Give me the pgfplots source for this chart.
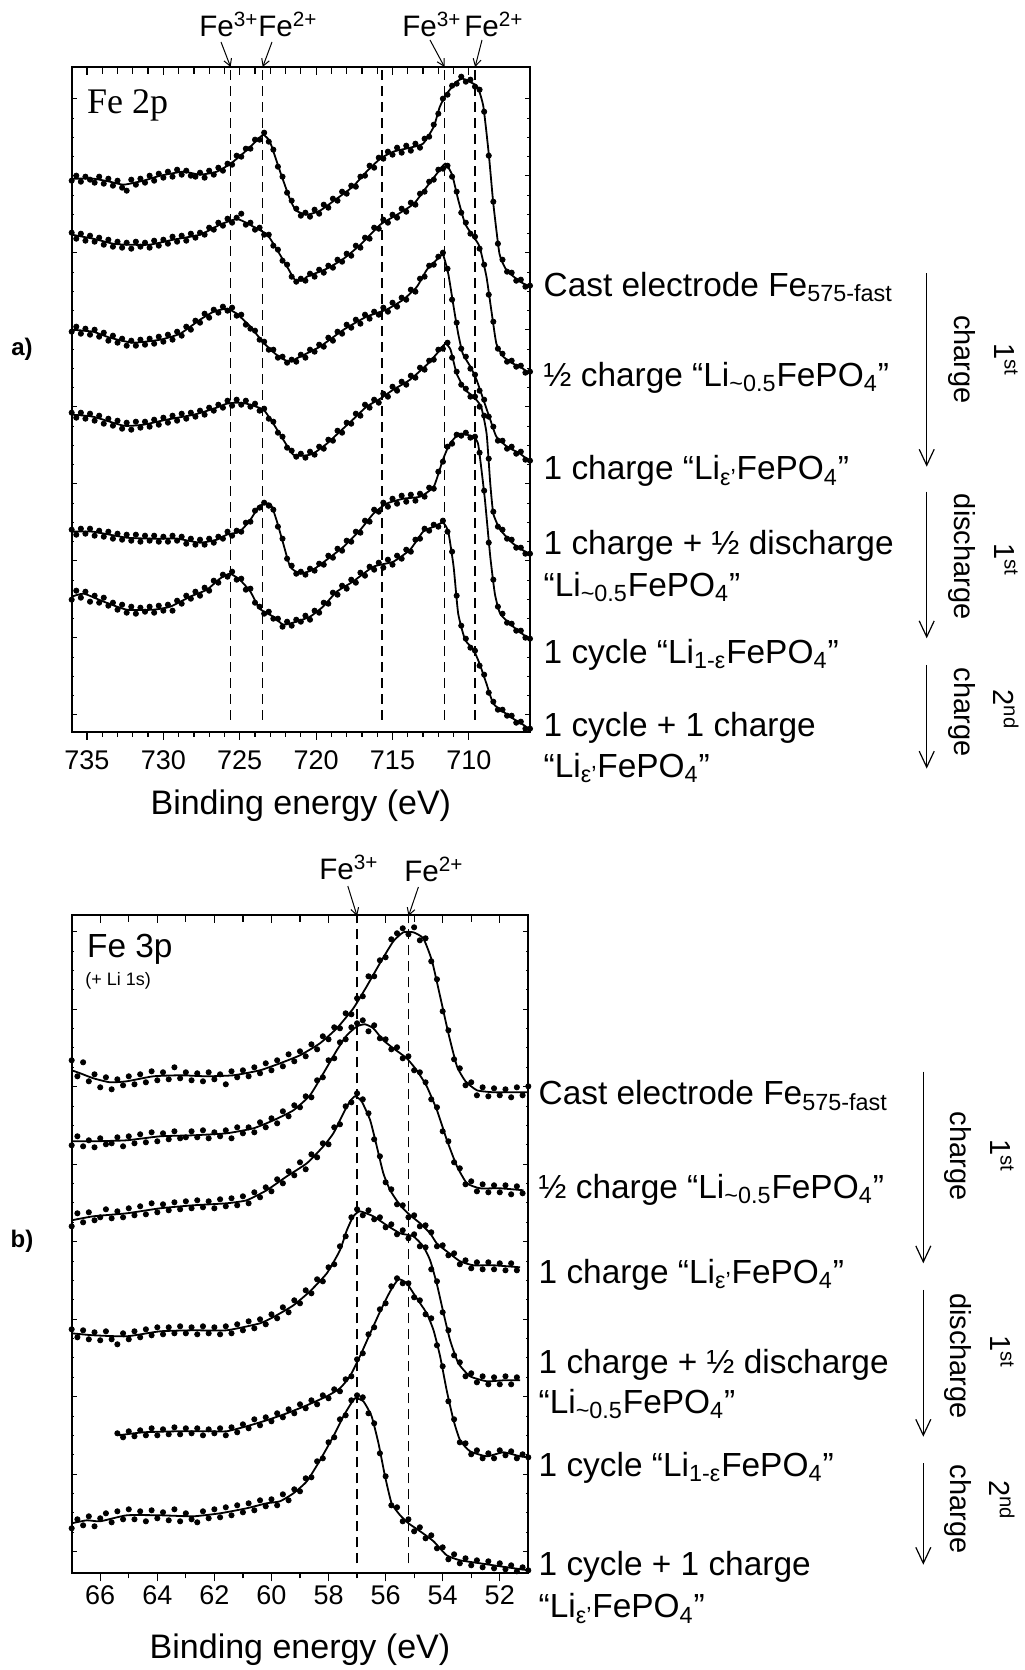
\documentclass[border=0pt]{standalone}
\usepackage{fontspec}
\setmainfont{Liberation Sans}
\newfontfamily\timesfont{Liberation Serif}
\usepackage{pgfplots}
\pgfplotsset{compat=1.18}
\usepackage{pgfplotstable}
\usetikzlibrary{arrows.meta}

% ---------- Fe 2p : fitted lines ----------
\pgfplotstableread{
x y
736.0 553
734.6 553
733.5 550
732.6 547
731.3 551
730.2 556
728.7 560
727.6 557
726.5 560
725.6 568
724.8 578
724.1 588
723.7 594
723.45 597
723.1 592
722.9 585
722.4 562
721.7 532
721.3 521
720.6 517
719.75 521
718.65 533
717.6 545
716.7 560
715.8 573
714.95 580
713.85 584
713.0 588
712.3 605
711.9 625
711.45 638
710.8 650
710.4 653
709.7 648
709.4 644
709.05 625
708.7 578
708.4 528
708.0 478
707.6 463
707.3 458
706.65 450
706.0 445
}\tA
\pgfplotstableread{
x y
736.0 497
734.6 493
733.3 488
732.4 487
730.9 487
729.35 492
727.6 497
726.3 507
725.4 512
725.0 512
724.1 505
723.2 497
722.6 483
721.9 465
721.4 452
720.9 451
720.6 455
719.3 463
718.2 473
717.1 487
715.8 507
714.7 517
713.6 528
712.75 545
712.1 558
711.55 568
711.1 557
710.7 532
710.25 508
709.7 495
709.3 485
708.85 455
708.5 418
708.2 388
707.75 375
707.1 368
706.65 365
706.0 358
}\tB
\pgfplotstableread{
x y
736.0 402
734.6 400
733.5 394
732.0 389
730.2 392
728.9 398
727.6 412
726.7 420
725.85 423
725.2 418
724.3 405
723.45 389
722.6 377
721.8 370
721.05 375
719.75 385
718.2 402
716.7 415
715.4 422
714.3 432
713.4 445
712.75 462
712.1 472
711.7 477
711.35 458
711.0 425
710.7 398
710.4 378
709.9 365
709.5 352
709.05 332
708.6 312
708.2 295
707.5 285
706.65 278
706.0 270
}\tC
\pgfplotstableread{
x y
736.0 317
734.6 315
732.6 306
731.3 307
729.8 312
728.0 317
726.7 323
725.85 328
725.2 329
724.55 328
723.45 322
722.8 308
722.15 292
721.5 277
720.8 276
720.2 278
719.3 288
718.45 300
717.6 312
716.7 325
715.8 333
714.95 342
713.85 352
712.75 367
712.1 378
711.55 388
711.2 382
710.8 358
710.25 342
709.7 335
709.2 325
708.84 298
708.6 248
708.4 218
707.95 202
707.1 188
706.0 177
}\tD
\pgfplotstableread{
x y
736.0 200
734.6 200
732.4 194
730.65 193
729.1 193
727.6 189
726.5 192
725.85 197
725.0 200
724.3 212
723.7 226
723.0 228
722.6 212
722.15 188
721.7 165
721.05 158
720.2 162
719.3 172
718.2 185
717.1 202
716.25 218
715.4 228
714.3 233
713.2 235
712.3 245
711.7 272
711.25 288
710.6 298
709.7 295
709.4 288
709.2 265
708.95 232
708.6 175
708.3 138
707.95 118
707.1 105
706.0 92
}\tE
\pgfplotstableread{
x y
736.0 135
735.2 138
733.9 130
732.4 122
730.65 122
729.55 125
728.25 135
727.15 142
726.3 153
725.65 158
725.0 152
724.3 140
723.7 123
722.8 115
722.15 107
721.3 110
720.4 115
719.55 125
718.65 140
717.6 150
716.25 165
714.95 170
713.85 182
713.0 200
712.3 205
711.7 209
711.35 200
711.0 165
710.7 118
710.25 92
709.7 82
709.3 68
708.85 48
708.4 28
707.75 20
707.1 13
706.45 7
706.0 2
}\tF

% ---------- Fe 2p : measured points ----------
\pgfplotstableread{
x a b c d e f
736.0 551 499 400 319 202 132
735.7 556 493 405 314 197 141
735.4 550 498 398 319 203 134
735.1 555 491 403 313 198 140
734.8 552 496 397 318 203 130
734.5 549 490 402 311 196 136
734.2 555 494 395 316 201 129
733.9 548 487 399 308 195 134
733.6 553 492 391 313 200 126
733.3 546 485 396 306 193 129
733.0 551 490 389 311 198 122
732.7 544 484 393 303 192 127
732.4 541 489 386 309 197 119
732.1 552 483 391 302 191 125
731.8 547 490 386 310 197 118
731.5 553 485 392 304 190 124
731.2 549 489 387 310 196 120
730.9 556 484 393 305 191 125
730.6 551 491 388 312 196 119
730.3 558 486 395 307 190 126
730.0 554 492 390 314 195 121
729.7 560 488 397 309 190 127
729.4 555 495 392 316 196 121
729.1 562 490 400 311 191 131
728.8 557 496 396 318 195 128
728.5 561 491 405 313 188 136
728.2 556 498 402 319 193 133
727.9 555 494 411 315 187 140
727.6 559 499 409 321 192 136
727.3 554 497 418 317 187 144
727.0 561 504 414 324 193 141
726.7 557 502 422 321 189 151
726.4 564 509 419 327 195 149
726.1 561 506 425 324 193 157
725.8 568 513 421 331 200 155
725.5 567 509 424 326 196 160
725.2 576 514 416 332 201 152
724.9 575 518 417 327 200 153
724.6 583 507 407 331 209 142
724.3 583 509 403 325 210 143
724.0 592 502 401 328 221 129
723.7 592 504 392 321 224 125
723.4 599 497 390 323 229 118
723.1 590 497 382 313 226 120
722.8 582 486 382 310 222 113
722.5 565 482 374 299 205 113
722.2 555 471 375 295 193 105
721.9 539 467 369 284 173 110
721.6 531 455 372 281 166 106
721.3 523 450 370 275 158 112
721.0 516 453 377 278 160 110
720.7 519 451 374 274 157 116
720.4 515 458 382 280 163 112
720.1 522 455 380 277 161 121
719.8 518 462 387 285 168 119
719.5 527 459 385 283 167 129
719.2 524 466 394 292 176 128
718.9 533 464 391 291 174 139
718.6 531 472 400 301 183 137
718.3 540 470 398 299 181 146
718.0 538 478 407 309 191 143
717.7 546 476 404 308 190 152
717.4 545 486 412 318 200 149
717.1 555 484 408 316 199 159
716.8 556 494 417 327 211 156
716.5 566 493 413 324 210 165
716.2 564 504 420 332 222 162
715.9 574 503 417 329 220 169
715.6 573 512 424 338 229 164
715.3 580 509 420 335 225 172
715.0 577 517 429 345 233 167
714.7 584 514 425 341 228 176
714.4 579 523 434 350 236 173
714.1 586 520 432 347 230 182
713.8 581 529 442 356 237 180
713.5 588 527 440 354 231 192
713.2 584 538 453 364 238 193
712.9 593 540 455 362 235 203
712.6 595 550 466 371 244 201
712.3 607 552 467 372 243 207
712.0 618 562 475 382 260 205
711.7 633 563 479 383 270 211
711.4 637 566 463 389 285 200
711.1 646 555 432 374 288 180
710.8 648 540 409 360 297 136
710.5 655 519 383 347 296 106
710.2 650 509 375 343 299 93
709.9 652 498 363 335 294 84
709.6 645 495 357 335 295 81
709.3 642 483 341 325 279 66
709.0 620 467 332 316 241 57
708.7 576 437 315 273 189 39
708.4 530 410 305 220 152 30
708.1 488 383 291 205 125 22
707.8 472 378 291 202 118 22
707.5 460 370 283 193 109 16
707.2 459 371 285 192 108 16
706.9 451 365 278 184 101 9
706.6 452 366 280 184 101 10
706.3 445 359 272 178 94 3
706.0 446 360 271 178 93 3
}\dTop

% ---------- Fe 3p : fitted lines ----------
\pgfplotstableread{
x y
67.0 503
66.7 500
66.24 495
65.66 491
65.07 492
64.14 497
63.2 498
62.27 497
61.33 498
60.4 503
59.7 510
59.0 518
58.3 530
57.71 545
57.13 565
56.66 587
56.2 610
55.73 632
55.38 641
55.03 641
54.68 635
54.38 613
54.09 577
53.8 540
53.5 507
53.2 492
52.8 483
52.22 481
51.64 481
51.0 481
}\bA
\pgfplotstableread{
x y
67.0 432
66.24 432
65.07 433
63.9 437
62.74 438
61.57 440
60.63 445
59.93 453
59.23 463
58.65 478
58.18 500
57.71 523
57.36 538
57.0 547
56.72 549
56.43 545
56.08 533
55.73 525
55.26 515
54.91 503
54.56 487
54.2 463
53.85 433
53.5 407
53.15 390
52.69 385
51.99 385
51.17 383
}\bB
\pgfplotstableread{
x y
67.0 353
66.24 357
65.07 360
63.9 365
62.74 368
61.57 370
60.87 373
60.17 383
59.46 397
58.76 410
58.18 427
57.83 440
57.48 460
57.25 472
57.07 477
56.84 472
56.54 453
56.31 427
56.08 400
55.84 383
55.49 368
55.14 358
54.79 350
54.44 340
54.21 330
53.86 322
53.39 312
52.92 308
52.22 308
51.29 306
}\bC
\pgfplotstableread{
x y
67.0 240
66.24 238
65.07 237
63.9 242
62.74 243
61.57 243
60.4 250
59.82 258
59.23 268
58.65 282
58.06 300
57.6 323
57.36 343
57.13 357
56.9 362
56.43 357
55.96 348
55.49 340
55.03 337
54.68 327
54.44 313
54.21 290
53.97 260
53.74 233
53.45 210
53.04 197
52.45 192
51.87 193
51.29 193
}\bD
\pgfplotstableread{
x y
65.36 138
64.49 141
63.32 142
62.15 142
61.57 142
60.87 147
60.17 153
59.46 160
58.76 168
58.06 177
57.6 185
57.25 197
56.9 217
56.54 240
56.19 262
55.84 282
55.55 294
55.26 290
54.91 275
54.56 260
54.32 243
54.09 217
53.86 183
53.62 153
53.39 133
53.04 122
52.45 117
51.87 121
51.29 117
51.0 116
}\bE
\pgfplotstableread{
x y
67.0 50
66.47 53
66.0 52
65.07 58
63.9 58
62.74 57
61.8 60
60.87 65
60.17 70
59.7 72
59.23 80
58.76 92
58.3 113
57.83 137
57.48 157
57.25 168
57.07 175
56.78 172
56.49 157
56.25 130
56.02 97
55.79 70
55.49 58
55.2 50
54.79 42
54.32 32
53.86 18
53.39 13
52.69 10
51.99 7
51.0 3
}\bF

% ---------- Fe 3p : measured points ----------
\pgfplotstableread{
x a b c d e f
67.0 513 428 347 244 nan 45
66.8 497 437 360 236 nan 54
66.6 511 427 351 243 nan 48
66.4 492 433 361 234 nan 57
66.2 499 426 353 241 nan 47
66.0 486 435 356 233 nan 55
65.8 496 429 364 242 nan 60
65.6 484 430 355 234 nan 51
65.4 494 436 362 229 140 62
65.2 488 427 356 240 136 54
65.0 497 437 365 234 142 64
64.8 489 430 358 242 137 54
64.6 499 439 367 236 143 62
64.4 491 431 359 244 138 52
64.2 502 441 370 238 145 63
64.0 493 432 361 246 138 55
63.8 501 440 369 239 144 61
63.6 494 434 363 246 139 53
63.4 506 442 371 240 146 64
63.2 495 435 364 247 139 52
63.0 501 436 372 240 145 60
62.8 493 442 365 246 140 54
62.6 500 436 373 239 145 51
62.4 492 443 366 247 138 62
62.2 501 435 372 240 144 55
62.0 494 441 365 246 140 64
61.8 499 437 374 239 145 56
61.6 489 443 367 247 138 66
61.4 502 435 375 240 146 58
61.2 496 446 368 249 141 68
61.0 503 440 377 243 149 61
60.8 497 446 370 252 145 70
60.6 506 441 381 245 154 63
60.4 500 451 376 254 148 73
60.2 510 446 386 249 156 67
60.0 503 455 382 259 152 74
59.8 513 450 394 255 160 68
59.6 507 462 390 266 156 79
59.4 519 457 402 261 164 73
59.2 512 468 398 273 160 84
59.0 522 466 411 270 169 82
58.8 517 477 404 283 165 95
58.6 529 476 419 280 173 96
58.4 524 493 416 294 169 112
58.2 537 496 430 292 178 115
58.0 534 513 429 306 175 131
57.8 546 515 446 309 184 136
57.6 545 531 449 327 182 154
57.4 560 534 467 337 194 158
57.2 559 546 471 356 197 173
57.0 575 550 480 364 214 178
56.8 577 553 474 358 220 176
56.6 597 542 460 363 239 160
56.4 597 548 434 354 246 150
56.2 613 535 417 356 264 120
56.0 616 534 391 346 270 97
55.8 634 524 384 349 287 68
55.6 640 526 369 339 295 66
55.4 645 515 368 343 290 52
55.2 639 517 356 335 290 54
55.0 646 503 358 339 276 42
54.8 633 501 347 327 273 46
54.6 635 491 348 326 259 35
54.4 612 474 341 304 255 38
54.2 594 466 327 292 228 25
54.0 562 442 328 261 207 26
53.8 543 432 318 243 172 14
53.6 514 411 320 218 154 19
53.4 505 405 309 211 131 10
53.2 488 389 313 197 130 15
53.0 491 392 305 200 119 8
52.8 478 382 311 191 123 13
52.6 486 389 304 197 115 6
52.4 477 381 311 189 120 12
52.2 485 388 304 196 115 5
52.0 478 381 310 189 123 10
51.8 484 388 303 197 118 4
51.6 476 379 310 189 122 8
51.4 486 387 303 196 115 2
51.2 478 380 nan nan 119 6
51.0 487 nan nan nan 116 3
}\dBot

\pgfplotsset{
  fitline/.style={black, line width=0.9pt, smooth, tension=0.3},
  pts/.style={black, only marks, mark=*, mark size=1.3pt},
  vdash/.style={black, line width=0.8pt, dash pattern=on 5pt off 3pt},
  ticklab/.style={tick label style={font=\fontsize{13.5}{15}\selectfont}},
}

\begin{document}
\begin{tikzpicture}
\useasboundingbox (0,0) rectangle (512pt,835pt);

% ================= panel a) Fe 2p =================
\begin{axis}[
  at={(35.85pt,469.15pt)}, anchor=south west,
  scale only axis, width=229.15pt, height=332.2pt,
  xmin=706, xmax=736, ymin=0, ymax=664.4, x dir=reverse,
  axis line style={line width=0.9pt},
  xtick={710,715,720,725,730,735}, minor x tick num=4,
  xtick pos=left, tick align=outside, ytick=\empty,
  major tick length=4pt, minor tick length=2.5pt,
  tick style={black, line width=0.6pt},
  ticklab, /pgf/number format/assume math mode=true,
  xticklabel style={inner sep=0pt, yshift=-5.5pt},
  xlabel={Binding energy (eV)},
  xlabel style={font=\fontsize{17}{20}\selectfont, at={(axis description cs:0.5,0)}, anchor=base, yshift=-41.65pt, inner sep=0pt},
]
\addplot[vdash] coordinates {(725.6,11.7) (725.6,664.4)};
\addplot[vdash] coordinates {(723.5,11.7) (723.5,664.4)};
\addplot[vdash] coordinates {(715.7,11.7) (715.7,664.4)};
\addplot[vdash] coordinates {(711.6,11.7) (711.6,664.4)};
\addplot[vdash] coordinates {(709.6,11.7) (709.6,664.4)};
\addplot[fitline] table[x=x,y=y] {\tA};
\addplot[fitline] table[x=x,y=y] {\tB};
\addplot[fitline] table[x=x,y=y] {\tC};
\addplot[fitline] table[x=x,y=y] {\tD};
\addplot[fitline] table[x=x,y=y] {\tE};
\addplot[fitline] table[x=x,y=y] {\tF};
\addplot[pts] table[x=x,y=a] {\dTop};
\addplot[pts] table[x=x,y=b] {\dTop};
\addplot[pts] table[x=x,y=c] {\dTop};
\addplot[pts] table[x=x,y=d] {\dTop};
\addplot[pts] table[x=x,y=e] {\dTop};
\addplot[pts] table[x=x,y=f] {\dTop};
\end{axis}
% top inner ticks
\begin{axis}[
  at={(35.85pt,469.15pt)}, anchor=south west,
  scale only axis, width=229.15pt, height=332.2pt,
  xmin=706, xmax=736, ymin=0, ymax=664.4, x dir=reverse,
  axis line style={draw=none},
  xtick={710,715,720,725,730,735}, minor x tick num=4,
  xtick pos=right, tick align=inside, xticklabels={}, ytick=\empty,
  major tick length=4pt, minor tick length=3.5pt,
  tick style={black, line width=0.6pt},
]
\end{axis}
% y inner ticks
\begin{axis}[
  at={(35.85pt,469.15pt)}, anchor=south west,
  scale only axis, width=229.15pt, height=332.2pt,
  xmin=706, xmax=736, ymin=0, ymax=664.4, x dir=reverse,
  axis line style={draw=none},
  xtick=\empty, ytick={16.7,93.7,170.7,247.7,324.7,401.7,478.7,555.7,632.7},
  minor y tick num=3, ytick pos=both, tick align=inside, yticklabels={},
  major tick length=2.5pt, minor tick length=1.3pt,
  tick style={black, line width=0.5pt},
]
\end{axis}

% ================= panel b) Fe 3p =================
\begin{axis}[
  at={(35.85pt,48.35pt)}, anchor=south west,
  scale only axis, width=228.3pt, height=329.15pt,
  xmin=51, xmax=67, ymin=0, ymax=658.3, x dir=reverse,
  axis line style={line width=0.9pt},
  xtick={52,54,56,58,60,62,64,66}, minor x tick num=1,
  xtick pos=left, tick align=outside, ytick=\empty,
  major tick length=4pt, minor tick length=2.5pt,
  tick style={black, line width=0.6pt},
  ticklab, /pgf/number format/assume math mode=true,
  xticklabel style={inner sep=0pt, yshift=-1.9pt},
  xlabel={Binding energy (eV)},
  xlabel style={font=\fontsize{17}{20}\selectfont, at={(axis description cs:0.5,0)}, anchor=base, yshift=-42.5pt, inner sep=0pt},
]
\addplot[vdash] coordinates {(57.0,10) (57.0,658.3)};
\addplot[vdash] coordinates {(55.2,10) (55.2,658.3)};
\addplot[fitline] table[x=x,y=y] {\bA};
\addplot[fitline] table[x=x,y=y] {\bB};
\addplot[fitline] table[x=x,y=y] {\bC};
\addplot[fitline] table[x=x,y=y] {\bD};
\addplot[fitline] table[x=x,y=y] {\bE};
\addplot[fitline] table[x=x,y=y] {\bF};
\addplot[pts] table[x=x,y=a] {\dBot};
\addplot[pts] table[x=x,y=b] {\dBot};
\addplot[pts] table[x=x,y=c] {\dBot};
\addplot[pts] table[x=x,y=d] {\dBot};
\addplot[pts] table[x=x,y=e] {\dBot};
\addplot[pts] table[x=x,y=f] {\dBot};
\end{axis}
\begin{axis}[
  at={(35.85pt,48.35pt)}, anchor=south west,
  scale only axis, width=228.3pt, height=329.15pt,
  xmin=51, xmax=67, ymin=0, ymax=658.3, x dir=reverse,
  axis line style={draw=none},
  xtick={52,54,56,58,60,62,64,66}, minor x tick num=1,
  xtick pos=right, tick align=inside, xticklabels={}, ytick=\empty,
  major tick length=4pt, minor tick length=3.5pt,
  tick style={black, line width=0.6pt},
]
\end{axis}
\begin{axis}[
  at={(35.85pt,48.35pt)}, anchor=south west,
  scale only axis, width=228.3pt, height=329.15pt,
  xmin=51, xmax=67, ymin=0, ymax=658.3, x dir=reverse,
  axis line style={draw=none},
  xtick=\empty, ytick={21.6,99.1,176.6,254.1,331.6,409.1,486.6,564.1,641.6},
  minor y tick num=3, ytick pos=both, tick align=inside, yticklabels={},
  major tick length=2.5pt, minor tick length=1.3pt,
  tick style={black, line width=0.5pt},
]
\end{axis}

% ================= annotations (pixel frame) =================
\begin{scope}[x=0.5pt, y=-0.5pt, shift={(0pt,835pt)}]
  \def\lab{\fontsize{16.7}{19}\selectfont}
  \def\rot{\fontsize{14.5}{16}\selectfont}
  \def\fen{\fontsize{14.8}{16}\selectfont}
  % panel a
  \node[anchor=base west, inner sep=0pt, font=\timesfont\fontsize{18}{20}\selectfont] at (86.7,113.3) {Fe 2p};
  \node[font=\bfseries\fontsize{12}{14}\selectfont, inner sep=0pt] at (22,349) {a)};
  \node[anchor=base west, inner sep=0pt, font=\fen] at (199,36.7) {Fe\textsuperscript{3+}};
  \node[anchor=base west, inner sep=0pt, font=\fen] at (258,36.7) {Fe\textsuperscript{2+}};
  \node[anchor=base west, inner sep=0pt, font=\fen] at (402,36.7) {Fe\textsuperscript{3+}};
  \node[anchor=base west, inner sep=0pt, font=\fen] at (464,36.7) {Fe\textsuperscript{2+}};
  \draw[line width=0.5pt, -{Straight Barb[length=3.5pt,width=4pt]}] (221,42) -- (230.6,67);
  \draw[line width=0.5pt, -{Straight Barb[length=3.5pt,width=4pt]}] (272,42) -- (262.7,67);
  \draw[line width=0.5pt, -{Straight Barb[length=3.5pt,width=4pt]}] (430,40) -- (444.5,67);
  \draw[line width=0.5pt, -{Straight Barb[length=3.5pt,width=4pt]}] (482,40) -- (475.1,67);
  \node[anchor=base west, inner sep=0pt, font=\lab] at (543.3,296.7) {Cast electrode Fe\textsubscript{575-fast}};
  \node[anchor=base west, inner sep=0pt, font=\lab] at (543.3,386.7) {½ charge “Li\textsubscript{\textasciitilde0.5}FePO\textsubscript{4}”};
  \node[anchor=base west, inner sep=0pt, font=\lab] at (543.3,480) {1 charge “Li\textsubscript{ε'}FePO\textsubscript{4}”};
  \node[anchor=base west, inner sep=0pt, font=\lab] at (543.3,555) {1 charge + ½ discharge};
  \node[anchor=base west, inner sep=0pt, font=\lab] at (543.3,596.7) {“Li\textsubscript{\textasciitilde0.5}FePO\textsubscript{4}”};
  \node[anchor=base west, inner sep=0pt, font=\lab] at (543.3,663.3) {1 cycle “Li\textsubscript{1-ε}FePO\textsubscript{4}”};
  \node[anchor=base west, inner sep=0pt, font=\lab] at (543.3,736.7) {1 cycle + 1 charge};
  \node[anchor=base west, inner sep=0pt, font=\lab] at (543.3,777.5) {“Li\textsubscript{ε'}FePO\textsubscript{4}”};
  \draw[line width=0.6pt, -{Straight Barb[length=8pt,width=7.5pt]}] (926.7,273.3) -- (926.7,466.7);
  \draw[line width=0.6pt, -{Straight Barb[length=8pt,width=7.5pt]}] (926.7,491.7) -- (926.7,638.3);
  \draw[line width=0.6pt, -{Straight Barb[length=8pt,width=7.5pt]}] (926.7,665) -- (926.7,768.6);
  \node[rotate=-90, font=\rot] at (961.7,359.6) {charge};
  \node[rotate=-90, font=\rot] at (1006,359.6) {1\textsuperscript{st}};
  \node[rotate=-90, font=\rot] at (961.7,556.8) {discharge};
  \node[rotate=-90, font=\rot] at (1006,559.6) {1\textsuperscript{st}};
  \node[rotate=-90, font=\rot] at (961.7,712.3) {charge};
  \node[rotate=-90, font=\rot] at (1006,709.6) {2\textsuperscript{nd}};
  % panel b
  \node[anchor=base west, inner sep=0pt, font=\fontsize{16.7}{19}\selectfont] at (86.7,957.3) {Fe 3p};
  \node[anchor=base west, inner sep=0pt, font=\fontsize{9}{11}\selectfont] at (85,986) {(+ Li 1s)};
  \node[font=\bfseries\fontsize{12}{14}\selectfont, inner sep=0pt] at (22,1241) {b)};
  \node[anchor=base west, inner sep=0pt, font=\fen] at (319,880) {Fe\textsuperscript{3+}};
  \node[anchor=base west, inner sep=0pt, font=\fen] at (404,881.7) {Fe\textsuperscript{2+}};
  \draw[line width=0.5pt, -{Straight Barb[length=3.5pt,width=4pt]}] (347.8,886) -- (357.1,916);
  \draw[line width=0.5pt, -{Straight Barb[length=3.5pt,width=4pt]}] (418.4,887) -- (408.5,916);
  \node[anchor=base west, inner sep=0pt, font=\lab] at (538.3,1105) {Cast electrode Fe\textsubscript{575-fast}};
  \node[anchor=base west, inner sep=0pt, font=\lab] at (538.3,1198.3) {½ charge “Li\textsubscript{\textasciitilde0.5}FePO\textsubscript{4}”};
  \node[anchor=base west, inner sep=0pt, font=\lab] at (538.3,1283.3) {1 charge “Li\textsubscript{ε'}FePO\textsubscript{4}”};
  \node[anchor=base west, inner sep=0pt, font=\lab] at (538.3,1373.3) {1 charge + ½ discharge};
  \node[anchor=base west, inner sep=0pt, font=\lab] at (538.3,1413.3) {“Li\textsubscript{\textasciitilde0.5}FePO\textsubscript{4}”};
  \node[anchor=base west, inner sep=0pt, font=\lab] at (538.3,1476.7) {1 cycle “Li\textsubscript{1-ε}FePO\textsubscript{4}”};
  \node[anchor=base west, inner sep=0pt, font=\lab] at (538.3,1576) {1 cycle + 1 charge};
  \node[anchor=base west, inner sep=0pt, font=\lab] at (538.3,1618) {“Li\textsubscript{ε'}FePO\textsubscript{4}”};
  \draw[line width=0.6pt, -{Straight Barb[length=8pt,width=7.5pt]}] (923.3,1071.7) -- (923.3,1263.3);
  \draw[line width=0.6pt, -{Straight Barb[length=8pt,width=7.5pt]}] (923.3,1290) -- (923.3,1436.7);
  \draw[line width=0.6pt, -{Straight Barb[length=8pt,width=7.5pt]}] (923.3,1463.3) -- (923.3,1564.7);
  \node[rotate=-90, font=\rot] at (958,1156) {charge};
  \node[rotate=-90, font=\rot] at (1002,1156) {1\textsuperscript{st}};
  \node[rotate=-90, font=\rot] at (958,1356) {discharge};
  \node[rotate=-90, font=\rot] at (1002,1352) {1\textsuperscript{st}};
  \node[rotate=-90, font=\rot] at (958,1509) {charge};
  \node[rotate=-90, font=\rot] at (1002,1500) {2\textsuperscript{nd}};
\end{scope}
\end{tikzpicture}
\end{document}
